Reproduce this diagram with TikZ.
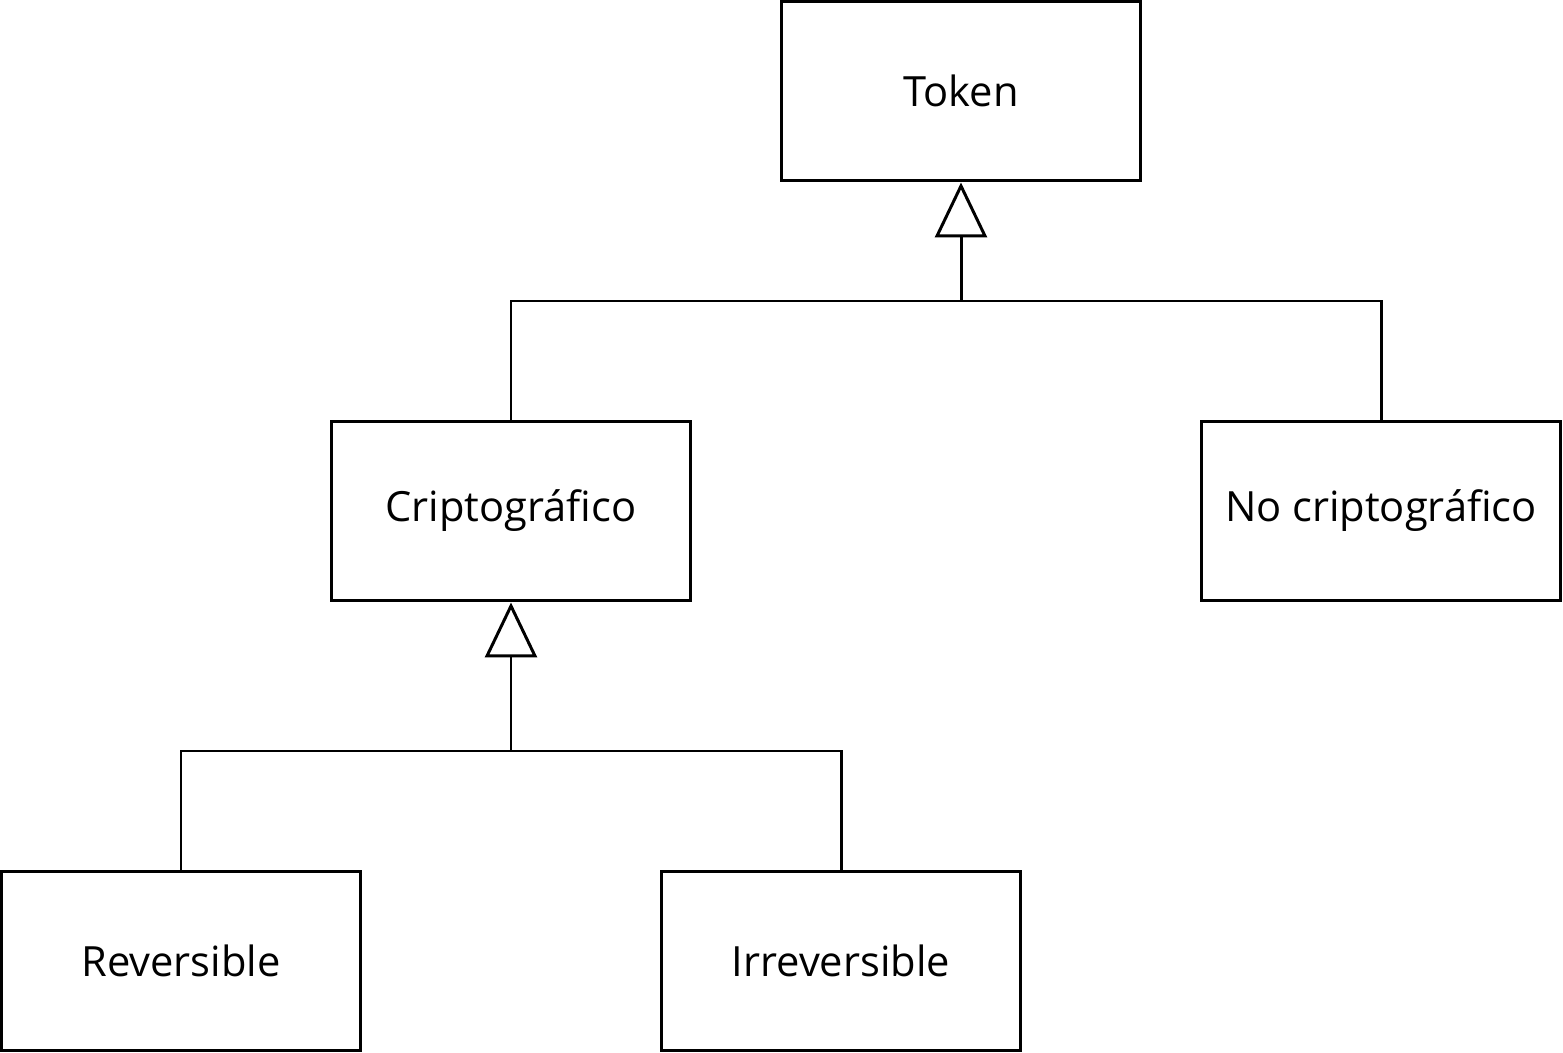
\documentclass[tikz,border=0pt]{standalone}
\usepackage{fontspec}
\setmainfont{Open Sans}
\usetikzlibrary{arrows.meta, positioning}

\begin{document}
\begin{tikzpicture}[
    x=0.02cm, y=-0.02cm,
    clase/.style={rectangle, draw, line width=1.7pt, minimum width=7.2cm, minimum height=3.6cm, font=\fontsize{23.7}{28}\selectfont},
    linea/.style={line width=1.7pt},
    hereda/.style={line width=1.7pt, -{Triangle[open, length=1.1cm, width=1.04cm, fill=white]}}
]
    \useasboundingbox (0,0) rectangle (1563,1053);

    % clases
    \node[clase] (token) at (961, 91) {Token};
    \node[clase] (cripto) at (511, 511) {Criptográfico};
    \node[clase] (nocripto) at (1381, 511) {No criptográfico};
    \node[clase] (rev) at (181, 961) {Reversible};
    \node[clase] (irrev) at (841, 961) {Irreversible};

    % uniones
    \coordinate (j1) at (961, 301);
    \coordinate (j2) at (511, 751);

    % Token
    \draw[linea] (cripto.north) |- (j1) -| (nocripto.north);
    \draw[hereda] (j1) -- (token.south);

    % Criptográfico
    \draw[linea] (rev.north) |- (j2) -| (irrev.north);
    \draw[hereda] (j2) -- (cripto.south);
\end{tikzpicture}
\end{document}
